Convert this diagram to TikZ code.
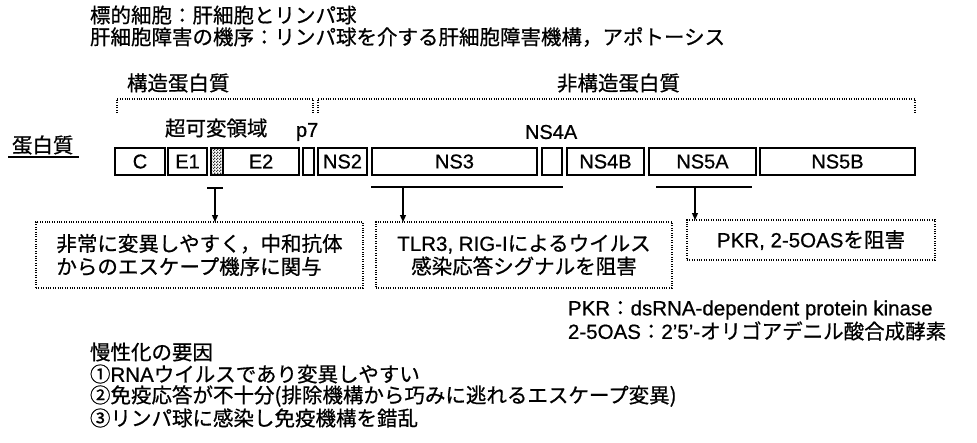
\documentclass[tikz,border=0pt]{standalone}
\usepackage{fontspec}
\setmainfont[FakeBold=0.7]{Liberation Sans}
\newfontfamily\jp[FakeBold=0.7]{Noto Sans CJK JP}
\newfontfamily\lat[FakeBold=0.7]{Liberation Sans}
\usetikzlibrary{patterns.meta,arrows.meta}
\tikzdeclarepattern{
  name=finecheck,
  type=uncolored,
  bottom left={(0pt,0pt)}, top right={(3pt,3pt)}, tile size={(3pt,3pt)},
  code={\fill (0pt,0pt) rectangle (1.5pt,1.5pt); \fill (1.5pt,1.5pt) rectangle (3pt,3pt);}
}
\begin{document}
\begin{tikzpicture}[x=1pt,y=-1pt,
  every node/.style={inner sep=0pt,outer sep=0pt},
  jt/.style={font=\jp\fontsize{20.5}{23}\selectfont, anchor=west},
  lt/.style={font=\lat\fontsize{20}{23}\selectfont},
  pbox/.style={draw, line width=1.3pt, minimum height=27pt, anchor=west, font=\lat\fontsize{20}{23}\selectfont},
  dotbox/.style={draw, line width=1.2pt, dash pattern=on 1pt off 1.4pt, font=\jp\fontsize{20.5}{23}\selectfont},
  dotline/.style={line width=1.2pt, dash pattern=on 1pt off 1.4pt},
  bar/.style={line width=1.2pt},
  arr/.style={line width=1.2pt,-{Triangle[length=7pt,width=6pt]}}
]
\useasboundingbox (0,0) rectangle (977,442);

% header
\node[jt] (h1) at (90,15) {標的細胞：肝細胞とリンパ球};
\node[jt] (h2) at (90,37) {肝細胞障害の機序：リンパ球を介する肝細胞障害機構，アポトーシス};

% group labels
\node[jt] (gs) at (127,83) {構造蛋白質};
\node[jt] (gn) at (557,83) {非構造蛋白質};

% brackets
\coordinate (s1) at (117,113); \coordinate (s2) at (117,99);
\coordinate (s3) at (313,99); \coordinate (s4) at (313,113);
\coordinate (n1) at (318,113); \coordinate (n2) at (318,99);
\coordinate (n3) at (915,99); \coordinate (n4) at (915,113);
\draw[dotline] (s1) -- (s2) -- (s3) -- (s4);
\draw[dotline] (n1) -- (n2) -- (n3) -- (n4);

% labels above boxes
\node[jt] (hv) at (165,128) {超可変領域};
\node[lt, anchor=west] (lp7) at (296,132) {p7};
\node[lt, anchor=west] (lns4a) at (525,132) {NS4A};
\node[jt] (prot) at (12,145) {蛋白質};
\coordinate (u1) at (8,157); \coordinate (u2) at (79,157);
\draw[line width=1.5pt] (u1) -- (u2);

% protein boxes
\node[pbox, minimum width=50pt] (C) at (115,161.5) {C};
\node[pbox, minimum width=39pt] (E1) at (168,161.5) {E1};
\node[pbox, minimum width=12pt, pattern={finecheck}, pattern color=black!80] (HV) at (211,161.5) {};
\node[pbox, minimum width=76pt] (E2) at (223,161.5) {E2};
\node[pbox, minimum width=11pt] (P7) at (303,161.5) {};
\node[pbox, minimum width=49pt] (NS2) at (318,161.5) {NS2};
\node[pbox, minimum width=165pt] (NS3) at (372,161.5) {NS3};
\node[pbox, minimum width=20pt] (NS4A) at (542,161.5) {};
\node[pbox, minimum width=77pt] (NS4B) at (567,161.5) {NS4B};
\node[pbox, minimum width=107pt] (NS5A) at (649,161.5) {NS5A};
\node[pbox, minimum width=155pt] (NS5B) at (760,161.5) {NS5B};

% description boxes
\node[dotbox, minimum width=327pt, minimum height=66pt, align=left] (b1) at (199.5,255)
  {非常に変異しやすく，中和抗体\\からのエスケープ機序に関与};
\node[dotbox, minimum width=296pt, minimum height=66pt, align=center] (b2) at (524,255)
  {{\lat TLR3, RIG-I}によるウイルス\\感染応答シグナルを阻害};
\node[dotbox, minimum width=248pt, minimum height=40pt] (b3) at (811,240)
  {{\lat PKR, 2-5OAS}を阻害};

% connectors
\coordinate (ta) at (207,188); \coordinate (tb) at (223,188); \coordinate (tc) at (215,188);
\draw[bar] (ta) -- (tb);
\draw[arr] (tc) -- (tc |- b1.north);
\coordinate (na) at (371,187); \coordinate (nb) at (563,187); \coordinate (nc) at (403,187);
\draw[bar] (na) -- (nb);
\draw[arr] (nc) -- (nc |- b2.north);
\coordinate (ma) at (656,187); \coordinate (mb) at (752,187); \coordinate (mc) at (695,187);
\draw[bar] (ma) -- (mb);
\draw[arr] (mc) -- (mc |- b3.north);

% abbreviations
\node[jt] (ab1) at (568,310) {{\lat\fontsize{20.5}{23}\selectfont PKR}：{\lat\fontsize{20.5}{23}\selectfont dsRNA-dependent protein kinase}};
\node[jt] (ab2) at (568,331) {{\lat\fontsize{20.5}{23}\selectfont 2-5OAS}：{\lat\fontsize{20.5}{23}\selectfont 2’5’-}オリゴアデニル酸合成酵素};

% chronic factors
\node[jt] (c0) at (90,352) {慢性化の要因};
\node[jt] (c1) at (90,374) {①{\lat RNA}ウイルスであり変異しやすい};
\node[jt] (c2) at (90,396) {②免疫応答が不十分(排除機構から巧みに逃れるエスケープ変異)};
\node[jt] (c3) at (90,418) {③リンパ球に感染し免疫機構を錯乱};
\end{tikzpicture}
\end{document}
